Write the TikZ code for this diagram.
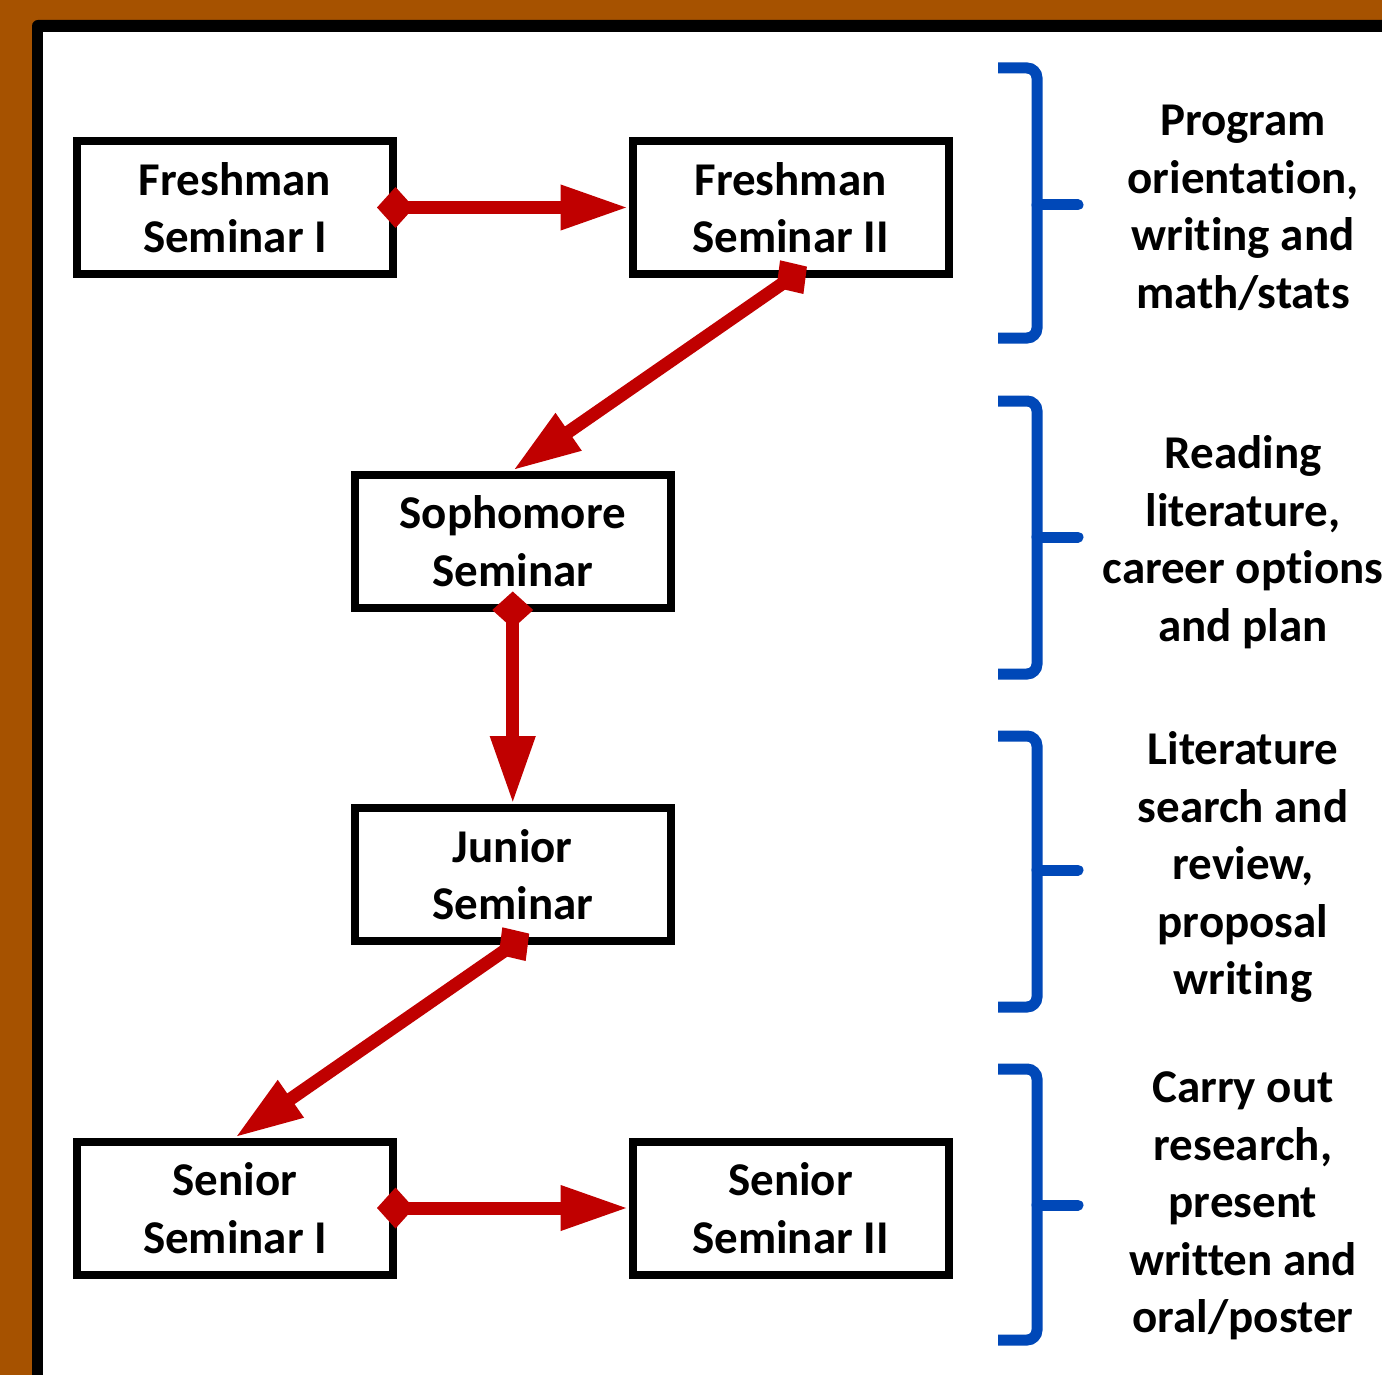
\documentclass[tikz,border=0pt]{standalone}
\usepackage{fontspec}
\setmainfont[RawFeature={-liga;-clig;-calt;-dlig;-rlig}]{Carlito}
\usepackage{tikz}
\usetikzlibrary{arrows.meta, positioning}
\definecolor{framebrown}{RGB}{166,82,0}
\definecolor{arrowred}{RGB}{192,0,0}
\definecolor{braceblue}{RGB}{0,72,184}
\tikzstyle{seminar} = [rectangle, minimum width=316pt, minimum height=133pt, text centered, align=center, draw=black, line width=8pt, font=\bfseries\fontsize{47}{57.5}\selectfont]
\tikzstyle{goal} = [align=center, inner sep=0pt, font=\bfseries\fontsize{47}{57.5}\selectfont]
\tikzstyle{arrow} = [line width=13pt, draw=arrowred, {Diamond[length=37pt,width=41pt]}-{Triangle[length=68pt,width=42pt]}, shorten <=-20pt]
\tikzstyle{brace} = [line width=11pt, draw=braceblue, rounded corners=10pt]

\begin{document}
\begin{tikzpicture}[x=1pt, y=-1pt, node distance=555.5pt]
\useasboundingbox (0,0) rectangle (1382,1375);
\fill [framebrown] (0,0) rectangle (1382,1375);
\fill [black, rounded corners=6pt] (32,20) rectangle (1430,1430);
\fill [white] (43,32) rectangle (1430,1430);

\node (fresh1) [seminar] at (235,207.5) {Freshman\\Seminar I};
\node (fresh2) [seminar, right of=fresh1] {Freshman\\Seminar II};
\node (soph) [seminar, node distance=333.5pt, below of=fresh1, xshift=277.75pt] {Sophomore\\Seminar};
\node (junior) [seminar, node distance=333.5pt, below of=soph] {Junior\\Seminar};
\node (senior1) [seminar, node distance=333.5pt, below of=junior, xshift=-277.75pt] {Senior\\Seminar I};
\node (senior2) [seminar, right of=senior1] {Senior\\Seminar II};

\draw [arrow] (fresh1) -- (fresh2);
\draw [arrow] (fresh2.south) -- (soph.north);
\draw [arrow] (soph) -- (junior);
\draw [arrow] (junior.south) -- (senior1.north);
\draw [arrow] (senior1) -- (senior2);

% braces
\draw [brace] (998,68) -- (1037,68) -- (1037,338) -- (998,338);
\draw [brace, line cap=round] (1037,205) -- (1078,205);
\draw [brace] (998,401) -- (1037,401) -- (1037,674) -- (998,674);
\draw [brace, line cap=round] (1037,537) -- (1078,537);
\draw [brace] (998,736) -- (1037,736) -- (1037,1007) -- (998,1007);
\draw [brace, line cap=round] (1037,870) -- (1078,870);
\draw [brace] (998,1069) -- (1037,1069) -- (1037,1340) -- (998,1340);
\draw [brace, line cap=round] (1037,1205) -- (1078,1205);

\node (goal1) [goal] at (1243,208) {Program\\orientation,\\writing and\\math/stats};
\node (goal2) [goal] at (1243,542) {Reading\\literature,\\career options\\and plan};
\node (goal3) [goal] at (1243,867) {Literature\\search and\\review,\\proposal\\writing};
\node (goal4) [goal] at (1243,1206) {Carry out\\research,\\present\\written and\\oral/poster};
\end{tikzpicture}
\end{document}
